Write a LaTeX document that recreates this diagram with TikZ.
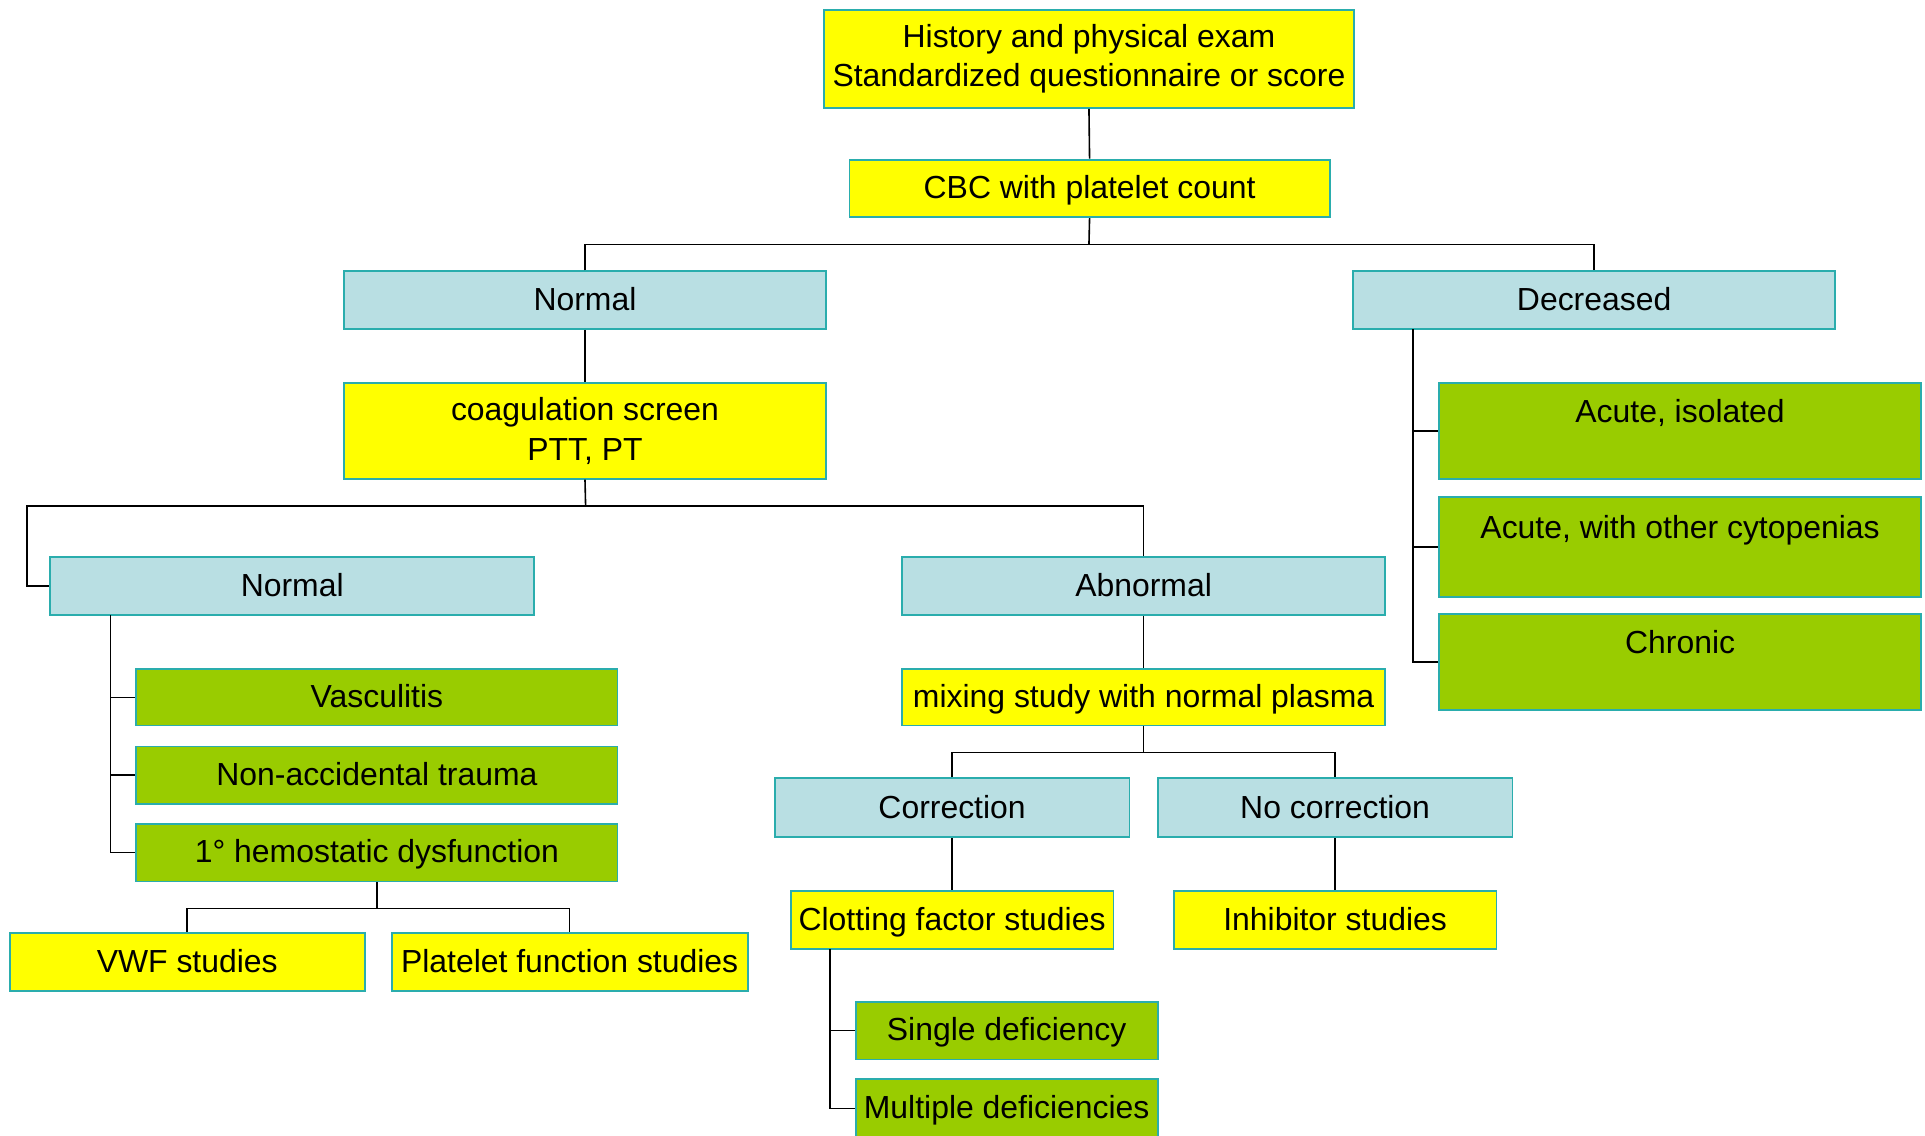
\documentclass[tikz,border=0pt]{standalone}
\usepackage{fontspec}
\setmainfont{Liberation Sans}
\definecolor{yelc}{HTML}{FFFF00}
\definecolor{bluc}{HTML}{B9DFE3}
\definecolor{grnc}{HTML}{99CC00}
\definecolor{bordc}{HTML}{2AADAD}
\begin{document}
\begin{tikzpicture}[x=1pt,y=-1pt,
  box/.style={draw=bordc, line width=1.5pt, inner sep=0pt, align=center,
    font=\fontsize{26}{32}\selectfont, text=black},
  one/.style={text height=20pt, text depth=3.4pt},
  upper/.style={text height=20pt, text depth=33.4pt},
  yel/.style={box, fill=yelc},
  blu/.style={box, fill=bluc},
  grn/.style={box, fill=grnc},
  conn/.style={draw=black, line width=1.3pt}]
\useasboundingbox (0,0) rectangle (1568,925);
\clip (0,0) rectangle (1568,925);
% nodes
\node[yel, minimum width=432pt, minimum height=80pt] (top) at (887,48) {History and physical exam\\Standardized questionnaire or score};
\node[yel, one, minimum width=391pt, minimum height=47pt] (cbc) at (887.5,153.5) {CBC with platelet count};
\node[blu, one, minimum width=393pt, minimum height=47pt] (n1) at (476.5,244.5) {Normal};
\node[blu, one, minimum width=393pt, minimum height=47pt] (dec) at (1298.5,244.5) {Decreased};
\node[yel, minimum width=393pt, minimum height=78pt] (coag) at (476.5,351) {coagulation screen\\PTT, PT};
\node[blu, one, minimum width=394pt, minimum height=47pt] (n2) at (238,477.5) {Normal};
\node[blu, one, minimum width=393pt, minimum height=47pt] (abn) at (931.5,477.5) {Abnormal};
\node[grn, one, minimum width=392pt, minimum height=46pt] (vas) at (307,568) {Vasculitis};
\node[grn, one, minimum width=392pt, minimum height=47pt] (nat) at (307,631.5) {Non-accidental trauma};
\node[grn, one, minimum width=392pt, minimum height=47pt] (hem) at (307,694.5) {1° hemostatic dysfunction};
\node[yel, one, minimum width=289pt, minimum height=47pt] (vwf) at (152.5,783.5) {VWF studies};
\node[yel, one, minimum width=290pt, minimum height=47pt] (plt) at (464,783.5) {Platelet function studies};
\node[yel, one, minimum width=393pt, minimum height=46pt] (mix) at (931.5,568) {mixing study with normal plasma};
\node[blu, one, minimum width=289pt, minimum height=48pt] (cor) at (775.5,658) {Correction};
\node[blu, one, minimum width=289pt, minimum height=48pt] (noc) at (1087.5,658) {No correction};
\node[yel, one, minimum width=263pt, minimum height=47pt] (clot) at (775.5,749.5) {Clotting factor studies};
\node[yel, one, minimum width=263pt, minimum height=47pt] (inh) at (1087.5,749.5) {Inhibitor studies};
\node[grn, one, minimum width=246pt, minimum height=47pt] (sing) at (820,839.5) {Single deficiency};
\node[grn, one, minimum width=246pt, minimum height=48pt] (mult) at (820,903) {Multiple deficiencies};
\node[grn, upper, minimum width=393pt, minimum height=78pt] (ac1) at (1368.5,351) {Acute, isolated};
\node[grn, upper, minimum width=393pt, minimum height=81pt] (ac2) at (1368.5,445.5) {Acute, with other cytopenias};
\node[grn, upper, minimum width=393pt, minimum height=78pt] (chr) at (1368.5,539) {Chronic};
% coordinates
\coordinate (b1) at (887,199);
\coordinate (b2) at (477,412);
\coordinate (lc) at (22,412);
\coordinate (t1) at (90,501);
\coordinate (b3) at (307,740);
\coordinate (b4) at (931.5,613);
\coordinate (t2) at (676,773);
\coordinate (t3) at (1151,268);
% connectors
\draw[conn] (top.south) -- (cbc.north);
\draw[conn] (cbc.south) -- (b1);
\draw[conn] (n1.north) |- (b1) -| (dec.north);
\draw[conn] (n1.south) -- (coag.north);
\draw[conn] (coag.south) -- (b2);
\draw[conn] (b2) -- (lc) |- (n2.west);
\draw[conn] (b2) -| (abn.north);
\draw[conn] (t1) |- (vas.west);
\draw[conn] (t1) |- (nat.west);
\draw[conn] (t1) |- (hem.west);
\draw[conn] (hem.south) -- (b3);
\draw[conn] (vwf.north) |- (b3) -| (plt.north);
\draw[conn] (abn.south) -- (mix.north);
\draw[conn] (mix.south) -- (b4);
\draw[conn] (cor.north) |- (b4) -| (noc.north);
\draw[conn] (cor.south) -- (clot.north);
\draw[conn] (noc.south) -- (inh.north);
\draw[conn] (t2) |- (sing.west);
\draw[conn] (t2) |- (mult.west);
\draw[conn] (t3) |- (ac1.west);
\draw[conn] (t3) |- (ac2.west);
\draw[conn] (t3) |- (chr.west);
\end{tikzpicture}
\end{document}
